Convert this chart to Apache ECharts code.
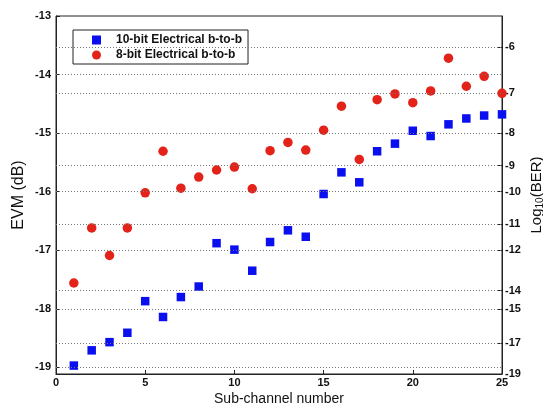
<!DOCTYPE html>
<html>
<head>
<meta charset="utf-8">
<script src="https://cdn.jsdelivr.net/npm/echarts@6/dist/echarts.min.js"></script>
<style>
  html, body { margin: 0; padding: 0; background: #fff; }
  #chart { width: 543px; height: 405px; }
</style>
</head>
<body>
<div id="chart"></div>
<script>
// sub-channel index on x
const subChannels = [1, 2, 3, 4, 5, 6, 7, 8, 9, 10, 11, 12, 13, 14, 15, 16, 17, 18, 19, 20, 21, 22, 23, 24, 25];
// EVM (dB)
const evm10bit = [-18.97, -18.71, -18.57, -18.41, -17.87, -18.14, -17.80, -17.62, -16.88, -16.99, -17.35, -16.86, -16.66, -16.77, -16.04, -15.67, -15.84, -15.31, -15.18, -14.96, -15.05, -14.85, -14.75, -14.70, -14.68];
const evm8bit = [-17.56, -16.62, -17.09, -16.62, -16.02, -15.31, -15.94, -15.75, -15.63, -15.58, -15.95, -15.30, -15.16, -15.29, -14.95, -14.54, -15.45, -14.43, -14.33, -14.48, -14.28, -13.72, -14.20, -14.03, -14.32];

const xTicks = [0, 5, 10, 15, 20, 25];
const evmTicks = [-13, -14, -15, -16, -17, -18, -19];
// right axis: log10(BER) labels and the EVM level each one sits at
const berTicks = [-6, -7, -8, -9, -10, -11, -12, -14, -15, -17, -19];
const berTickEvm = [-13.533, -14.32, -15, -15.554, -16, -16.56, -17, -17.69, -18, -18.59, -19.114];

const evmMin = -19.114, evmMax = -13;

const names = ['10-bit Electrical b-to-b', '8-bit Electrical b-to-b'];

// dotted grid lines at every inner tick of both axes
let gridLevels = evmTicks.filter(v => v > evmMin && v < evmMax);
berTickEvm.forEach(v => {
  if (v > evmMin && v < evmMax && gridLevels.indexOf(v) < 0) gridLevels.push(v);
});

const font = 'Liberation Sans, Arial, sans-serif';
const axisLineStyle = { color: '#222', width: 1 };

const chart = echarts.init(document.getElementById('chart'), null, { renderer: 'canvas' });

const option = {
  backgroundColor: '#fff',
  animation: false,
  grid: {
    left: 56, right: 41, top: 16, bottom: 31,
    outerBoundsMode: 'none',
    containLabel: false,
    show: true, borderColor: '#222', borderWidth: 1, backgroundColor: 'transparent'
  },
  legend: {
    orient: 'vertical',
    left: 73, top: 30,
    borderColor: '#222', borderWidth: 1,
    padding: [4, 6, 3, 19],
    itemGap: 3,
    itemWidth: 9, itemHeight: 9,
    selectedMode: false,
    textStyle: { fontFamily: font, fontSize: 12, fontWeight: 'bold', color: '#111', padding: [0, 0, 0, 10] },
    data: [
      { name: names[0], icon: 'rect' },
      { name: names[1], icon: 'circle' }
    ]
  },
  xAxis: {
    type: 'value',
    min: 0, max: 25, interval: 5,
    name: 'Sub-channel number',
    nameLocation: 'middle',
    nameGap: 18,
    nameMoveOverlap: false,
    nameTextStyle: { fontFamily: font, fontSize: 14, color: '#111' },
    axisLine: { lineStyle: axisLineStyle },
    axisTick: { inside: true, length: 4, customValues: xTicks, lineStyle: axisLineStyle },
    axisLabel: { customValues: xTicks, fontFamily: font, fontSize: 11, fontWeight: 'bold', color: '#111', margin: 3 },
    splitLine: { show: false }
  },
  yAxis: [
    {
      type: 'value',
      min: evmMin, max: evmMax,
      position: 'left',
      name: 'EVM (dB)',
      nameLocation: 'middle',
      nameGap: 29,
      nameMoveOverlap: false,
      nameRotate: 90,
      nameTextStyle: { fontFamily: font, fontSize: 16, color: '#111' },
      axisLine: { show: true, lineStyle: axisLineStyle },
      axisTick: { inside: true, length: 4, customValues: evmTicks, lineStyle: axisLineStyle },
      axisLabel: { customValues: evmTicks, fontFamily: font, fontSize: 11, fontWeight: 'bold', color: '#111', margin: 5 },
      splitLine: { show: false }
    },
    {
      type: 'value',
      min: evmMin, max: evmMax,
      position: 'right',
      name: '{a|Log}{s|10}{a|(BER)}',
      nameLocation: 'middle',
      nameGap: 27,
      nameMoveOverlap: false,
      nameRotate: 90,
      nameTextStyle: {
        rich: {
          a: { fontFamily: font, fontSize: 15, color: '#111' },
          s: { fontFamily: font, fontSize: 10, color: '#111', padding: [6, 0, 0, 0] }
        }
      },
      axisLine: { show: true, lineStyle: axisLineStyle },
      axisTick: { inside: true, length: 4, customValues: berTickEvm, lineStyle: axisLineStyle },
      axisLabel: {
        customValues: berTickEvm,
        fontFamily: font, fontSize: 11, fontWeight: 'bold', color: '#111', margin: 3,
        formatter: function (v) {
          let best = 0;
          for (let i = 1; i < berTickEvm.length; i++) {
            if (Math.abs(berTickEvm[i] - v) < Math.abs(berTickEvm[best] - v)) best = i;
          }
          return String(berTicks[best]);
        }
      },
      splitLine: { show: false }
    }
  ],
  series: [
    {
      name: 'grid',
      type: 'line',
      data: [],
      silent: true,
      markLine: {
        silent: true,
        symbol: 'none',
        label: { show: false },
        lineStyle: { color: '#777', width: 1, type: [1, 2] },
        data: gridLevels.map(v => ({ yAxis: v }))
      }
    },
    {
      name: names[0],
      type: 'scatter',
      symbol: 'rect',
      symbolSize: 8.5,
      clip: false,
      itemStyle: { color: '#0a0ff0', opacity: 1 },
      data: subChannels.map((x, i) => [x, evm10bit[i]])
    },
    {
      name: names[1],
      type: 'scatter',
      symbol: 'circle',
      symbolSize: 9.5,
      clip: false,
      itemStyle: { color: '#e3221a', opacity: 1 },
      data: subChannels.map((x, i) => [x, evm8bit[i]])
    }
  ]
};

chart.setOption(option);
</script>
</body>
</html>
